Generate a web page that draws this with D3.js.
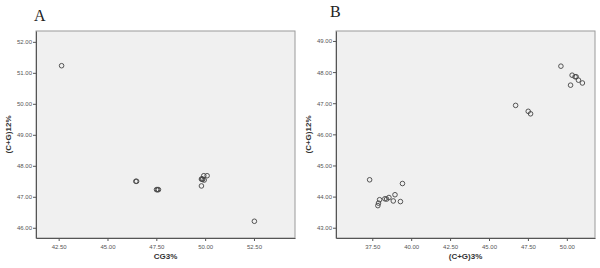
<!DOCTYPE html>
<html>
<head>
<meta charset="utf-8">
<script src="https://cdn.jsdelivr.net/npm/d3@7"></script>
<style>
  body { margin: 0; background: #fff; }
  svg { display: block; }
</style>
</head>
<body>
<div id="chart"></div>
<script>
// panel A: CG3% vs (C+G)12%
const aX = [42.65, 46.45, 46.49, 47.51, 47.56, 47.61, 49.81, 49.84, 49.87, 49.95, 49.93, 50.10, 49.81, 52.52];
const aY = [51.23, 47.50, 47.50, 47.23, 47.23, 47.23, 47.57, 47.58, 47.56, 47.54, 47.68, 47.68, 47.35, 46.21];
const aXTicks = [42.5, 45.0, 47.5, 50.0, 52.5];
const aYTicks = [46, 47, 48, 49, 50, 51, 52];

// panel B: (C+G)3% vs (C+G)12%
const bX = [49.62, 50.34, 50.53, 50.60, 50.75, 51.00, 50.24, 46.71, 47.52, 47.67,
            37.33, 39.44, 38.96, 38.57, 38.31, 38.42, 37.97, 38.85, 39.31, 37.90, 37.86];
const bY = [48.19, 47.90, 47.85, 47.85, 47.74, 47.65, 47.58, 46.93, 46.74, 46.66,
            44.54, 44.42, 44.06, 43.97, 43.93, 43.92, 43.90, 43.86, 43.84, 43.79, 43.71];
const bXTicks = [37.5, 40.0, 42.5, 45.0, 47.5, 50.0];
const bYTicks = [43, 44, 45, 46, 47, 48, 49];

const width = 600, height = 268;
const svg = d3.select("#chart").append("svg")
    .attr("width", width)
    .attr("height", height);

function panel(opts) {
    const { left, right, top, bottom, xDomain, yDomain, xs, ys, xTicks, yTicks, letter, letterX, letterY, xLabel, yLabel } = opts;

    const x = d3.scaleLinear().domain(xDomain).range([left, right]);
    const y = d3.scaleLinear().domain(yDomain).range([bottom, top]);

    // background + frame
    svg.append("rect")
        .attr("x", left).attr("y", top)
        .attr("width", right - left).attr("height", bottom - top)
        .attr("fill", "#f0f0f0")
        .attr("stroke", "#9a9a9a")
        .attr("stroke-width", 1);

    const fmt = d3.format(".2f");

    const xAxis = svg.append("g")
        .attr("transform", `translate(0,${bottom})`)
        .call(d3.axisBottom(x).tickValues(xTicks).tickFormat(fmt).tickSize(3).tickSizeOuter(0));
    const yAxis = svg.append("g")
        .attr("transform", `translate(${left},0)`)
        .call(d3.axisLeft(y).tickValues(yTicks).tickFormat(fmt).tickSize(3).tickSizeOuter(0));

    [xAxis, yAxis].forEach(g => {
        g.select(".domain").attr("stroke", "#555");
        g.selectAll(".tick line").attr("stroke", "#555");
        g.selectAll("text")
            .attr("fill", "#555")
            .attr("font-family", "Arial, Liberation Sans, sans-serif")
            .attr("font-size", 6);
    });
    xAxis.selectAll("text").attr("dy", "0.9em");
    yAxis.selectAll("text").attr("x", -4);

    // points
    svg.append("g")
        .selectAll("circle")
        .data(xs.map((v, i) => [v, ys[i]]))
        .join("circle")
        .attr("cx", d => x(d[0]))
        .attr("cy", d => y(d[1]))
        .attr("r", 2.3)
        .attr("fill", "none")
        .attr("stroke", "#444")
        .attr("stroke-width", 0.9);

    // panel letter
    svg.append("text")
        .attr("x", letterX).attr("y", letterY)
        .attr("font-family", "Liberation Serif, Times New Roman, serif")
        .attr("font-size", 16)
        .attr("fill", "#222")
        .text(letter);

    // axis titles
    svg.append("text")
        .attr("x", (left + right) / 2)
        .attr("y", 259)
        .attr("text-anchor", "middle")
        .attr("font-family", "Arial, Liberation Sans, sans-serif")
        .attr("font-weight", "bold")
        .attr("font-size", 8)
        .attr("fill", "#333")
        .text(xLabel);

    svg.append("text")
        .attr("transform", `translate(${left - 25},${(top + bottom) / 2}) rotate(-90)`)
        .attr("text-anchor", "middle")
        .attr("font-family", "Arial, Liberation Sans, sans-serif")
        .attr("font-weight", "bold")
        .attr("font-size", 8)
        .attr("fill", "#333")
        .text(yLabel);
}

panel({
    left: 36, right: 295, top: 31, bottom: 238,
    xDomain: [41.34, 54.6], yDomain: [45.67, 52.35],
    xs: aX, ys: aY, xTicks: aXTicks, yTicks: aYTicks,
    letter: "A", letterX: 34, letterY: 21,
    xLabel: "CG3%", yLabel: "(C+G)12%"
});

panel({
    left: 336, right: 595, top: 31, bottom: 238,
    xDomain: [35.17, 51.81], yDomain: [42.67, 49.32],
    xs: bX, ys: bY, xTicks: bXTicks, yTicks: bYTicks,
    letter: "B", letterX: 330, letterY: 17,
    xLabel: "(C+G)3%", yLabel: "(C+G)12%"
});
</script>
</body>
</html>
